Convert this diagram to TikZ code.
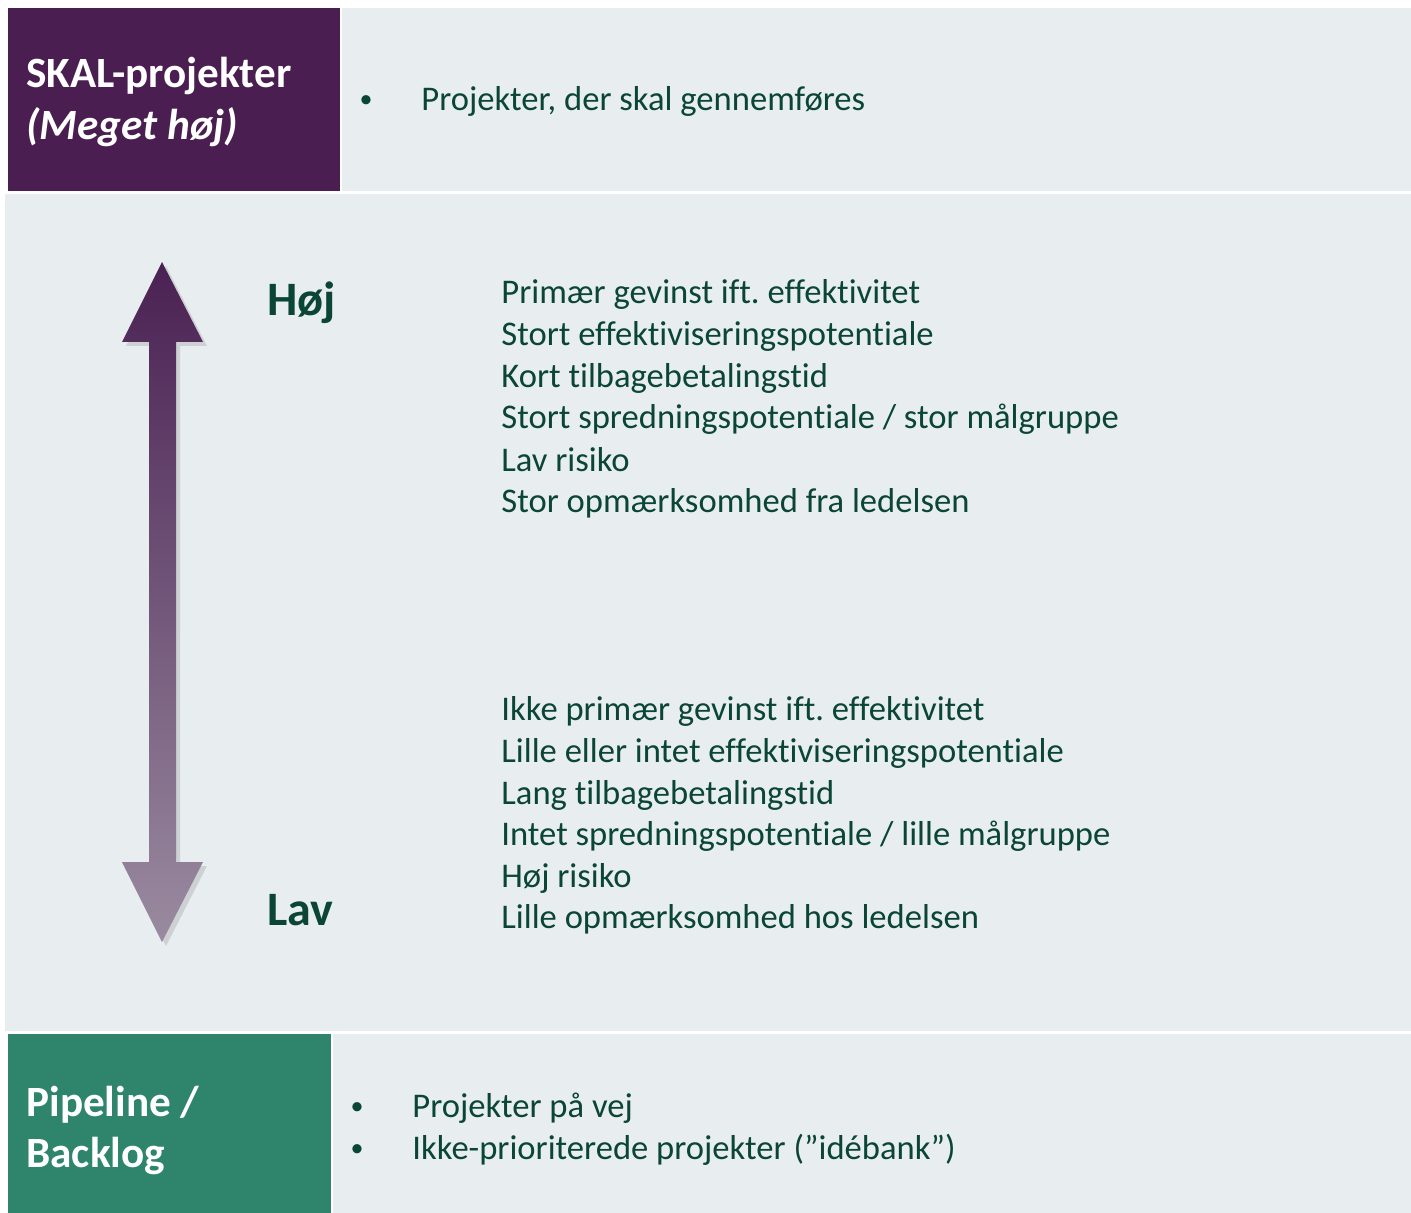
\documentclass[tikz,border=0pt]{standalone}
\usepackage{fontspec}
\setmainfont[Ligatures={NoCommon,NoRequired,NoContextual}]{Carlito}
\usetikzlibrary{shadows}
\frenchspacing
\definecolor{panel}{HTML}{E8EDF0}
\definecolor{skalpurple}{HTML}{4A1E50}
\definecolor{pipegreen}{HTML}{2E856C}
\definecolor{ink}{HTML}{0A4535}
\definecolor{arrowtop}{HTML}{4A2153}
\definecolor{arrowbot}{HTML}{9A8BA0}
\tikzset{
  body/.style={anchor=base west, inner sep=0pt, text=ink, font=\fontsize{17.3}{20.8}\selectfont},
  title/.style={anchor=base west, inner sep=0pt, text=white, font=\fontsize{21.6}{26}\selectfont\bfseries},
  level/.style={anchor=base west, inner sep=0pt, text=ink, font=\fontsize{24}{28}\selectfont\bfseries},
  dot/.style={anchor=base, inner sep=0pt, text=ink, font=\fontsize{13}{16}\selectfont},
}
\begin{document}
\begin{tikzpicture}[x=0.5pt, y=-0.5pt]
  \useasboundingbox[fill=white] (0,0) rectangle (1411,1213);
  % panels
  \fill[skalpurple] (8,8) rectangle (340,191);
  \fill[panel] (342,8) rectangle (1411,191);
  \fill[panel] (5,194) rectangle (1411,1031);
  \fill[pipegreen] (8,1034) rectangle (331,1213);
  \fill[panel] (333,1034) rectangle (1411,1213);

  % top row
  \node[title] (skal) at (26,88) {SKAL-projekter};
  \node[title] (skalsub) at (26,140) {\itshape (Meget høj)};
  \node[dot] (b1) at (366,108) {•};
  \node[body] (t1) at (421,111) {Projekter, der skal gennemføres};

  % double arrow with vertical shading
  \path[top color=arrowtop, bottom color=arrowbot,
        drop shadow={opacity=0.25, shadow xshift=2pt, shadow yshift=-2pt}]
    (162,262) -- (203,342) -- (176,342) -- (176,862) -- (203,862) -- (162,942)
    -- (122,862) -- (149,862) -- (149,342) -- (122,342) -- cycle;

  \node[level] (hoj) at (267,316) {Høj};
  \node[level] (lav) at (267,925) {Lav};

  % high criteria
  \node[body] (h1) at (501,304) {Primær gevinst ift. effektivitet};
  \node[body] (h2) at (501,346) {Stort effektiviseringspotentiale};
  \node[body] (h3) at (501,387) {Kort tilbagebetalingstid};
  \node[body] (h4) at (501,429) {Stort spredningspotentiale / stor målgruppe};
  \node[body] (h5) at (501,471) {Lav risiko};
  \node[body] (h6) at (501,512) {Stor opmærksomhed fra ledelsen};

  % low criteria
  \node[body] (l1) at (501,720) {Ikke primær gevinst ift. effektivitet};
  \node[body] (l2) at (501,762) {Lille eller intet effektiviseringspotentiale};
  \node[body] (l3) at (501,804) {Lang tilbagebetalingstid};
  \node[body] (l4) at (501,845) {Intet spredningspotentiale / lille målgruppe};
  \node[body] (l5) at (501,887) {Høj risiko};
  \node[body] (l6) at (501,928) {Lille opmærksomhed hos ledelsen};

  % bottom row
  \node[title] (pipe) at (26,1116) {Pipeline /};
  \node[title] (back) at (26,1167) {Backlog};
  \node[dot] (b2) at (357,1114) {•};
  \node[body] (t2) at (412,1117) {Projekter på vej};
  \node[dot] (b3) at (357,1156) {•};
  \node[body] (t3) at (412,1159) {Ikke-prioriterede projekter (”idébank”)};
\end{tikzpicture}
\end{document}
